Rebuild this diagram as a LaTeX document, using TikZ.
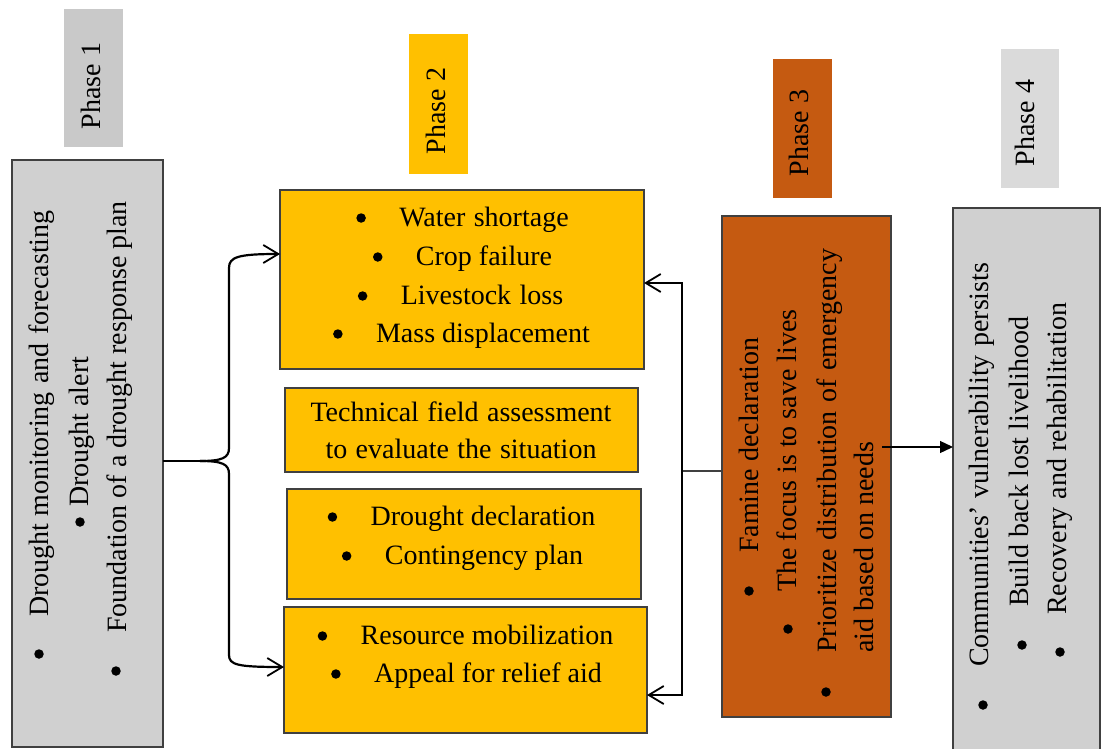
\documentclass[tikz,border=0pt]{standalone}
\usepackage{fontspec}
\setmainfont{Liberation Serif}
\usetikzlibrary{arrows.meta,calc}
\definecolor{ylw}{HTML}{FFC000}
\definecolor{rust}{HTML}{C55A11}
\definecolor{gA}{HTML}{C9C9C9}
\definecolor{gB}{HTML}{D0D0D0}
\definecolor{gC}{HTML}{DADADA}
\definecolor{edge}{HTML}{404040}
\newcommand\wsp{\hspace{0.3em}}
\begin{document}
\begin{tikzpicture}[x=1pt,y=-1pt,
 box/.style={draw=edge,line width=1.2pt,anchor=north west,inner sep=0pt,outer sep=0pt},
 tag/.style={anchor=north west,inner sep=0pt,outer sep=0pt},
 txt/.style={font=\fontsize{28}{30}\selectfont,inner sep=0pt,text height=21pt,text depth=5pt},
 vtxt/.style={txt,rotate=90,anchor=west},
 bul/.style={circle,fill=black,inner sep=0pt,minimum size=9.5pt},
 conn/.style={line width=1.8pt},
 arr/.style={conn,-{Straight Barb[length=15pt,width=18pt,line width=1.8pt]}},
]
\useasboundingbox (0,0) rectangle (1106,749);
\clip (0,0) rectangle (1106,749);
% phase tags
\node[tag,fill=gA,minimum width=59pt,minimum height=138pt] (t1) at (64,9) {};
\node[txt,rotate=90] (t1t) at (92,86) {Phase 1};
\node[tag,fill=ylw,minimum width=59pt,minimum height=140pt] (t2) at (409,34) {};
\node[txt,rotate=90] (t2t) at (437,111) {Phase 2};
\node[tag,fill=rust,minimum width=59pt,minimum height=139pt] (t3) at (773,59) {};
\node[txt,rotate=90] (t3t) at (800,133) {Phase 3};
\node[tag,fill=gC,minimum width=58pt,minimum height=139pt] (t4) at (1001,49) {};
\node[txt,rotate=90] (t4t) at (1026,123) {Phase 4};
% boxes
\node[box,fill=gB,minimum width=151pt,minimum height=587pt] (p1) at (12,160) {};
\node[box,fill=ylw,minimum width=364pt,minimum height=179pt] (p2a) at (280,190) {};
\node[box,fill=ylw,minimum width=353pt,minimum height=84pt] (p2b) at (285,388) {};
\node[box,fill=ylw,minimum width=354pt,minimum height=110pt] (p2c) at (287,489) {};
\node[box,fill=ylw,minimum width=363pt,minimum height=126pt] (p2d) at (284,607) {};
\node[box,fill=rust,minimum width=169pt,minimum height=501pt] (p3) at (722,216) {};
\node[box,fill=gB,minimum width=147pt,minimum height=560pt] (p4) at (953,208) {};
% phase 1 text
\node[vtxt] (q1) at (40,617) {Drought monitoring\wsp and\wsp forecasting};
\node[bul] (q1b) at (39,654) {};
\node[vtxt] (q2) at (80,507) {Drought alert};
\node[bul] (q2b) at (80,522) {};
\node[vtxt] (q3) at (118,633) {Foundation of a drought response plan};
\node[bul] (q3b) at (116,671) {};
% phase 2 texts
\node[txt] (a1) at (484,218) {Water\wsp shortage};
\node[bul] at ([xshift=-38pt]a1.west) {};
\node[txt] (a2) at (484,257) {Crop failure};
\node[bul] at ([xshift=-38pt]a2.west) {};
\node[txt] (a3) at (482,296) {Livestock\wsp loss};
\node[bul] at ([xshift=-38pt]a3.west) {};
\node[txt] (a4) at (483,334) {Mass displacement};
\node[bul] at ([xshift=-38pt]a4.west) {};
\node[txt] (b1) at (461,413) {Technical\wsp field\wsp assessment};
\node[txt] (b2) at (461,450) {to\wsp evaluate\wsp the\wsp situation};
\node[txt] (c1) at (483,517) {Drought declaration};
\node[bul] at ([xshift=-38pt]c1.west) {};
\node[txt] (c2) at (484,556) {Contingency plan};
\node[bul] at ([xshift=-38pt]c2.west) {};
\node[txt] (d1) at (487,636) {Resource mobilization};
\node[bul] at ([xshift=-38pt]d1.west) {};
\node[txt] (d2) at (488,674) {Appeal for relief aid};
\node[bul] at ([xshift=-38pt]d2.west) {};
% phase 3 text
\node[vtxt] (r1) at (750,553) {Famine declaration};
\node[bul] (r1b) at (749,591) {};
\node[vtxt] (r2) at (788,592) {The focus is to save lives};
\node[bul] (r2b) at (788,629) {};
\node[vtxt] (r3) at (828,653) {Prioritize\wsp distribution\wsp of\wsp emergency};
\node[bul] (r3b) at (826,692) {};
\node[vtxt] (r4) at (865,653) {aid based on needs};
% phase 4 text
\node[vtxt] (s1) at (980,667) {Communities’\wsp vulnerability\wsp persists};
\node[bul] (s1b) at (983,705) {};
\node[vtxt] (s2) at (1020,607) {Build back lost livelihood};
\node[bul] (s2b) at (1022,645) {};
\node[vtxt] (s3) at (1058,615) {Recovery\wsp and rehabilitation};
\node[bul] (s3b) at (1060,652) {};
% brace connectors
\coordinate (jb) at (200,461);
\draw[conn,line width=2.2pt] (p1.east |- jb) -- (jb);
\draw[arr,line width=2.2pt] (jb) .. controls (222,461) and (229,458) .. (229,448) -- (229,268) .. controls (229,257) and (238,254) .. ([yshift=25.5pt]p2a.west);
\draw[arr,line width=2.2pt] (jb) .. controls (222,461) and (229,464) .. (229,474) -- (229,655) .. controls (229,665) and (238,667) .. ([yshift=3pt]p2d.west);
% right connectors
\coordinate (jr) at (682,471);
\draw[conn,line width=1.4pt,draw=edge] (p3.west |- jr) -- (jr);
\draw[arr] (jr) |- ([yshift=-3.5pt]p2a.east);
\draw[arr] (jr) |- ([yshift=-25pt]p2d.east);
% phase 3 to 4
\coordinate (k) at (882,447);
\draw[line width=1.3pt,-{Triangle[length=13pt,width=12pt]}] (k) -- (p4.west |- k);
\end{tikzpicture}
\end{document}
